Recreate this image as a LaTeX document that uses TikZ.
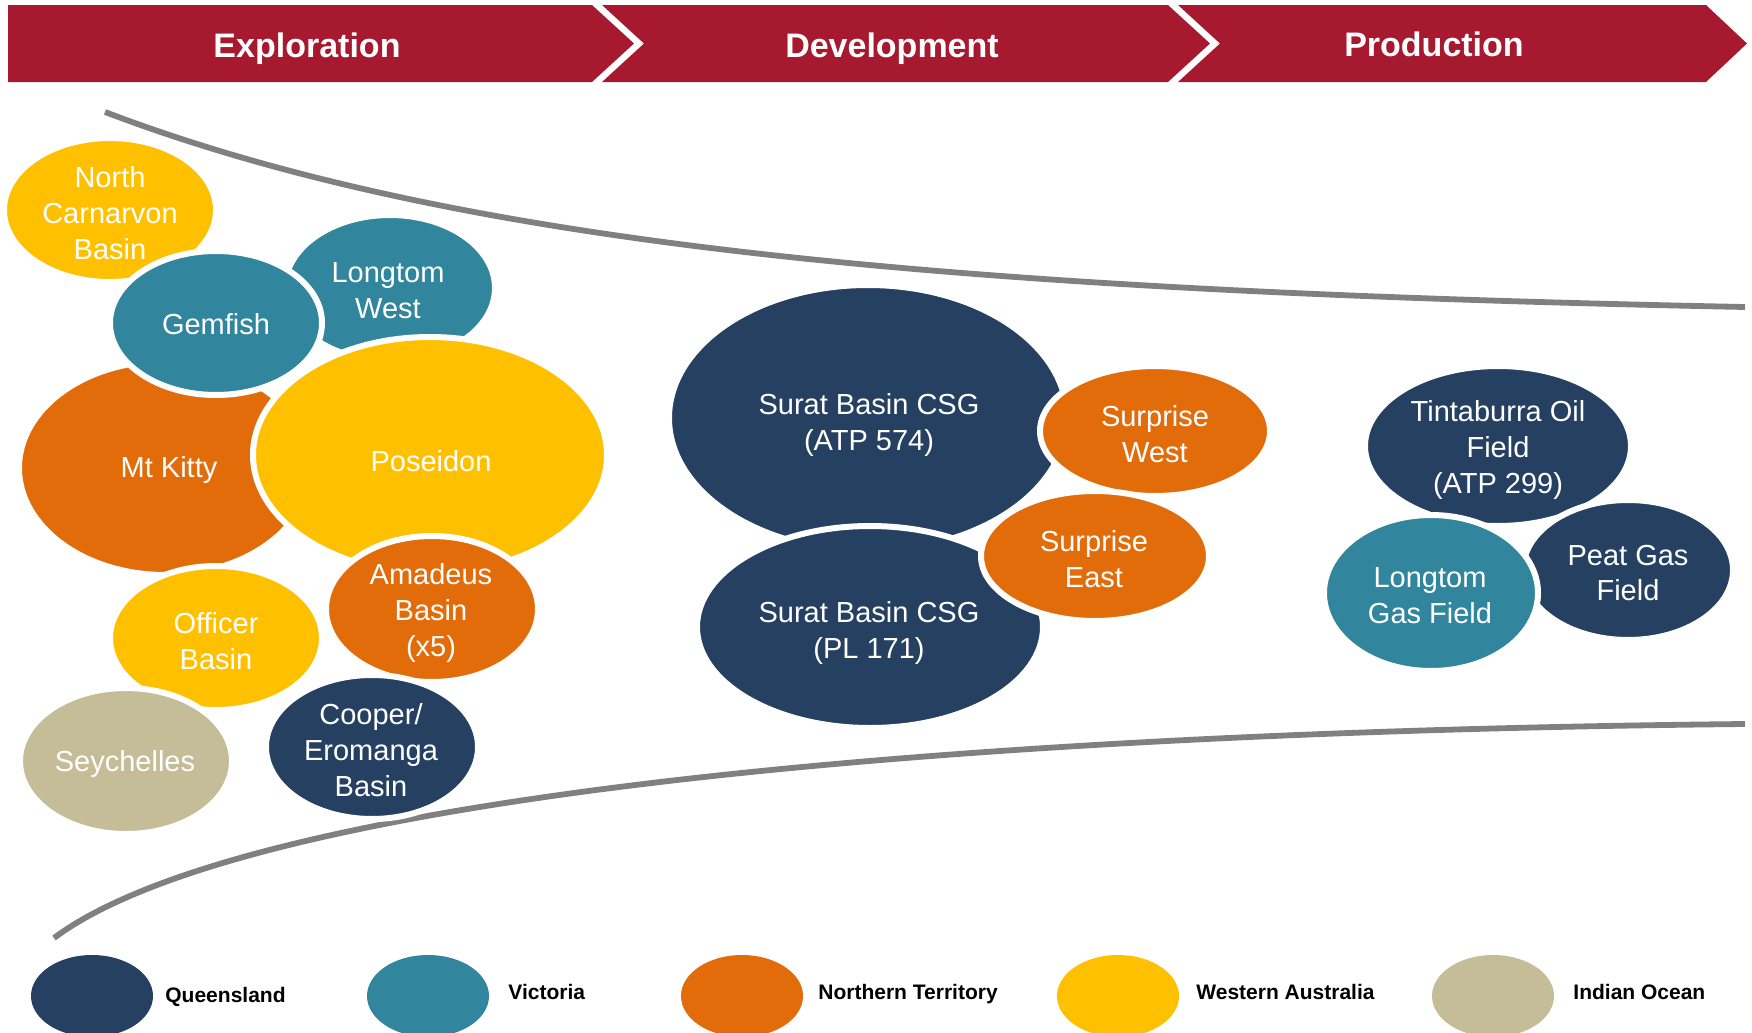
\documentclass[tikz,border=0pt]{standalone}
\usepackage{fontspec}
\setmainfont{Liberation Sans}
\usetikzlibrary{shapes.geometric}
\definecolor{qld}{HTML}{264062}
\definecolor{vic}{HTML}{31859C}
\definecolor{nt}{HTML}{E36C0A}
\definecolor{wa}{HTML}{FFC000}
\definecolor{io}{HTML}{C4BD97}
\definecolor{band}{HTML}{A6192E}
\definecolor{funnel}{HTML}{808080}

\begin{document}
\begin{tikzpicture}[x=0.5pt,y=-0.5pt,
  bub/.style n args={2}{ellipse, draw=white, line width=3pt, inner sep=0pt,
                        minimum width=#1pt, minimum height=#2pt},
  btxt/.style={text=white, align=center, inner sep=0pt,
               font=\fontsize{14.5}{17.85}\selectfont},
  htxt/.style={text=white, anchor=base, inner sep=0pt,
               font=\fontsize{17}{20}\selectfont\bfseries},
  key/.style={ellipse, inner sep=0pt, minimum width=61pt, minimum height=41pt},
  ktxt/.style={anchor=base west, inner sep=0pt,
               font=\fontsize{10.5}{12}\selectfont\bfseries},
  stage/.style={fill=band, draw=none},
  funnelline/.style={draw=funnel, line width=2.9pt}
]
\useasboundingbox (0,0) rectangle (1752,1033);

% ---- stage chevrons ----
\fill[stage] (8,5) -- (592,5) -- (634,43.5) -- (592,82) -- (8,82) -- cycle;
\fill[stage] (602,5) -- (1168,5) -- (1210,43.5) -- (1168,82) -- (602,82) -- (644,43.5) -- cycle;
\fill[stage] (1178,5) -- (1706,5) -- (1747,43.5) -- (1706,82) -- (1178,82) -- (1220,43.5) -- cycle;
\node[htxt] (h1) at (307,57) {Exploration};
\node[htxt] (h2) at (892,57) {Development};
\node[htxt] (h3) at (1434,56) {Production};

% ---- funnel outline ----
\draw[funnelline] (105,112) .. controls (455,245) and (945,291) .. (1745,307);
\draw[funnelline] (54,938) .. controls (244,796) and (945,732) .. (1745,724);

% ---- exploration ----
\node[bub={106}{72}, fill=wa]  (nc)  at (110,210) {};
\node[btxt] (nc-t) at (110,213) {North\\Carnarvon\\Basin};
\node[bub={105}{73}, fill=vic] (lw)  at (390,288) {};
\node[btxt] (lw-t) at (388,291) {Longtom\\West};
\node[bub={146}{107}, fill=nt] (mk)  at (165,468) {};
\node[btxt] (mk-t) at (169,470) {Mt Kitty};
\node[bub={106}{72}, fill=vic] (gf)  at (216,323) {};
\node[btxt] (gf-t) at (216,324) {Gemfish};
\node[bub={177}{118}, fill=wa] (po)  at (430,455) {};
\node[btxt] (po-t) at (431,461) {Poseidon};
\node[bub={106}{72}, fill=wa]  (ob)  at (216,638) {};
\node[btxt] (ob-t) at (216,641) {Officer\\Basin};
\node[bub={106}{73}, fill=nt]  (am)  at (432,609) {};
\node[btxt] (am-t) at (431,613) {Amadeus\\Basin\\(x5)};
\node[bub={106}{73}, fill=io]  (se)  at (126,761) {};
\node[btxt] (se-t) at (125,764) {Seychelles};
\node[bub={106}{72}, fill=qld] (ce)  at (372,747) {};
\node[btxt] (ce-t) at (371,750) {Cooper/\\Eromanga\\Basin};

% ---- development ----
\node[bub={199}{133}, fill=qld] (sa)  at (868,418) {};
\node[btxt] (sa-t) at (869,425) {Surat Basin CSG\\(ATP 574)};
\node[bub={173}{101}, fill=qld] (sp)  at (870,627) {};
\node[btxt] (sp-t) at (869,633) {Surat Basin CSG\\(PL 171)};
\node[bub={115}{65}, fill=nt]   (sw)  at (1155,431) {};
\node[btxt] (sw-t) at (1155,434) {Surprise\\West};
\node[bub={114}{65}, fill=nt]   (sx)  at (1095,556) {};
\node[btxt] (sx-t) at (1094,559) {Surprise\\East};

% ---- production ----
\node[bub={133}{80}, fill=qld]  (ti)  at (1498,446) {};
\node[btxt] (ti-t) at (1498,450) {Tintaburra Oil\\Field\\(ATP 299)};
\node[bub={105}{70}, fill=qld]  (pg)  at (1628,570) {};
\node[btxt] (pg-t) at (1628,573) {Peat Gas\\Field};
\node[bub={107}{78}, fill=vic]  (lg)  at (1431,593) {};
\node[btxt] (lg-t) at (1430,596) {Longtom\\Gas Field};

% ---- legend ----
\node[key, fill=qld] (k1) at (92,996) {};
\node[ktxt] (k1-t) at (165,1002) {Queensland};
\node[key, fill=vic] (k2) at (428,996) {};
\node[ktxt] (k2-t) at (508,999) {Victoria};
\node[key, fill=nt]  (k3) at (742,996) {};
\node[ktxt] (k3-t) at (818,999) {Northern Territory};
\node[key, fill=wa]  (k4) at (1118,996) {};
\node[ktxt] (k4-t) at (1196,999) {Western Australia};
\node[key, fill=io]  (k5) at (1493,996) {};
\node[ktxt] (k5-t) at (1573,999) {Indian Ocean};
\end{tikzpicture}
\end{document}
